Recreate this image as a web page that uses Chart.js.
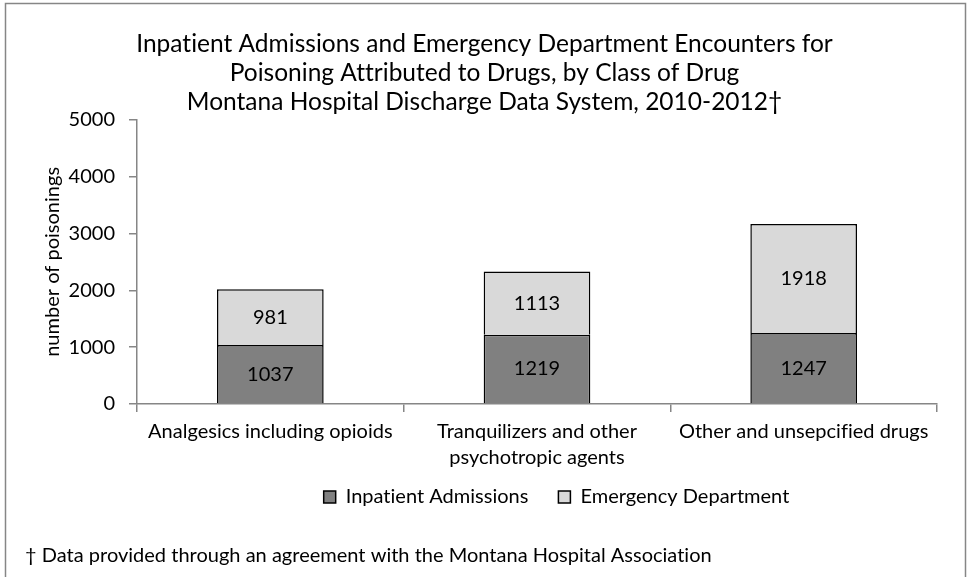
<!DOCTYPE html>
<html>
<head>
<meta charset="utf-8">
<script src="https://cdn.jsdelivr.net/npm/chart.js@4.4.1/dist/chart.umd.min.js"></script>
<style>
html,body{margin:0;padding:0;background:#fff;}
#wrap{position:relative;width:969px;height:577px;}
</style>
</head>
<body>
<div id="wrap"><canvas id="c" width="969" height="577"></canvas></div>
<script>
const categories = ["Analgesics including opioids", ["Tranquilizers and other", "psychotropic agents"], "Other and unsepcified drugs"];
const inpatientAdmissions = [1037, 1219, 1247];
const emergencyDepartment = [981, 1113, 1918];
const yTicks = [0, 1000, 2000, 3000, 4000, 5000];
const titleLines = ["Inpatient Admissions and Emergency Department Encounters for", "Poisoning Attributed to Drugs, by Class of Drug", "Montana Hospital Discharge Data System, 2010-2012\u2020"];
const yAxisTitle = "number of poisonings";
const footnote = "\u2020 Data provided through an agreement with the Montana Hospital Association";

const FONT = "Lato";
const FS = 20;

function noLig(ctx) { try { ctx.letterSpacing = '0.01px'; } catch (e) {} }

const framePlugin = {
  id: 'frame',
  beforeUpdate(chart) { noLig(chart.ctx); },
  afterLayout(chart) {
    const lg = chart.legend;
    if (lg) {
      const dx = 88, dy = -20;
      lg.left += dx; lg.right += dx;
      lg.top += dy; lg.bottom += dy;
    }
    const tb = chart.titleBlock;
    if (tb) {
      tb.left += 16; tb.right += 16;
    }
  },
  beforeDraw(chart) {
    const ctx = chart.ctx;
    noLig(ctx);
    ctx.save();
    ctx.fillStyle = '#fff';
    ctx.fillRect(0, 0, chart.width, chart.height);
    ctx.strokeStyle = '#868686';
    ctx.lineWidth = 1.5;
    ctx.strokeRect(5.5, 3.5, 960, 620);
    ctx.restore();
  },
  afterDraw(chart) {
    const ctx = chart.ctx;
    ctx.save();
    ctx.fillStyle = '#000';
    ctx.font = FS + "px " + FONT;
    ctx.textBaseline = 'middle';
    ctx.textAlign = 'left';
    ctx.fillText(footnote, 25, 556);
    ctx.restore();
  }
};

const labelPlugin = {
  id: 'barLabels',
  afterDatasetsDraw(chart) {
    const ctx = chart.ctx;
    ctx.save();
    ctx.fillStyle = '#000';
    ctx.font = FS + "px " + FONT;
    ctx.textAlign = 'center';
    ctx.textBaseline = 'middle';
    chart.data.datasets.forEach((ds, i) => {
      const meta = chart.getDatasetMeta(i);
      meta.data.forEach((el, j) => {
        const y = (el.y + el.base) / 2;
        ctx.fillText(String(ds.data[j]), el.x, y);
      });
    });
    ctx.restore();
  }
};

new Chart(document.getElementById('c'), {
  type: 'bar',
  data: {
    labels: categories,
    datasets: [
      {
        label: 'Inpatient Admissions',
        data: inpatientAdmissions,
        backgroundColor: '#808080',
        borderColor: '#000',
        borderWidth: 1.5,
        barPercentage: 0.4,
        categoryPercentage: 1.0
      },
      {
        label: 'Emergency Department',
        data: emergencyDepartment,
        backgroundColor: '#d9d9d9',
        borderColor: '#000',
        borderWidth: 1.5,
        barPercentage: 0.4,
        categoryPercentage: 1.0
      }
    ]
  },
  options: {
    responsive: false,
    animation: false,
    devicePixelRatio: 1,
    layout: { padding: { left: 0, right: 32, top: 0, bottom: 40 } },
    plugins: {
      title: {
        display: true,
        text: titleLines,
        color: '#000',
        font: { family: FONT, size: 24.5, weight: 'normal', lineHeight: 1.18 },
        padding: { top: 29.5, bottom: 3.5 }
      },
      legend: {
        position: 'bottom',
        labels: {
          color: '#000',
          font: { family: FONT, size: FS },
          boxWidth: 12,
          boxHeight: 12,
          padding: 30,
          generateLabels(chart) {
            return chart.data.datasets.map((ds, i) => ({
              text: ds.label,
              fillStyle: ds.backgroundColor,
              strokeStyle: '#000',
              lineWidth: 1.5,
              datasetIndex: i,
              hidden: false,
              fontColor: '#000'
            }));
          }
        }
      },
      tooltip: { enabled: false }
    },
    scales: {
      x: {
        stacked: true,
        offset: true,
        grid: { display: true, offset: true, drawOnChartArea: false, drawTicks: true, tickLength: 8, color: '#868686', lineWidth: 1.5 },
        border: { display: true, color: '#868686', width: 1.5 },
        ticks: { color: '#000', font: { family: FONT, size: FS, lineHeight: 1.3 }, padding: 7, maxRotation: 0, autoSkip: false },
        afterFit(scale) { scale.height = 73; }
      },
      y: {
        stacked: true,
        min: 0,
        max: 5000,
        afterBuildTicks(scale) { scale.ticks = yTicks.map(v => ({ value: v })); },
        grid: { display: true, drawOnChartArea: false, drawTicks: true, tickLength: 8, color: '#868686', lineWidth: 1.5 },
        border: { display: true, color: '#868686', width: 1.5 },
        ticks: { color: '#000', font: { family: FONT, size: FS }, padding: 14, callback: (v) => String(v) },
        title: { display: true, text: yAxisTitle, color: '#000', font: { family: FONT, size: FS }, padding: { top: 41, bottom: 0 } },
        afterFit(scale) { scale.width = 137; }
      }
    }
  },
  plugins: [framePlugin, labelPlugin]
});
</script>
</body>
</html>
